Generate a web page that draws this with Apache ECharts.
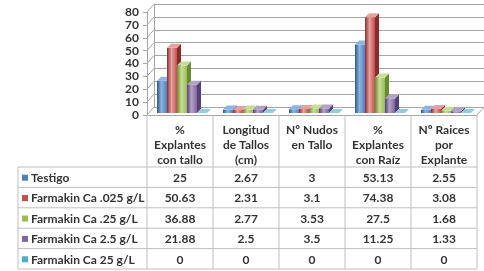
<!DOCTYPE html>
<html>
<head>
<meta charset="utf-8">
<script src="https://cdn.jsdelivr.net/npm/echarts@6/dist/echarts.min.js"></script>
<style>
  html, body { margin: 0; padding: 0; background: #fff; }
  #chart { width: 484px; height: 271px; }
</style>
</head>
<body>
<div id="chart"></div>
<script>
// columnas (también cabecera de la tabla)
const categories = ['%\nExplantes\ncon tallo', 'Longitud\nde Tallos\n(cm)', 'Nº Nudos\nen Tallo', '%\nExplantes\ncon Raíz', 'Nº Raices\npor\nExplante']
const seriesNames = ['Testigo', 'Farmakin Ca .025 g/L', 'Farmakin Ca .25 g/L', 'Farmakin Ca 2.5 g/L', 'Farmakin Ca 25 g/L']
const testigo = [25, 2.67, 3, 53.13, 2.55]
const farmakin025 = [50.63, 2.31, 3.1, 74.38, 3.08]
const farmakin25 = [36.88, 2.77, 3.53, 27.5, 1.68]
const farmakin2_5 = [21.88, 2.5, 3.5, 11.25, 1.33]
const farmakin25gl = [0, 0, 0, 0, 0]
const yTicks = [0, 10, 20, 30, 40, 50, 60, 70, 80]

const allSeries = [testigo, farmakin025, farmakin25, farmakin2_5, farmakin25gl]
// base, oscuro, claro
const colors = [
  ['#4F81BD', '#2C5985', '#8DB3E2'],
  ['#C0504D', '#8B2B29', '#E6A09E'],
  ['#9BBB59', '#6A8A2F', '#C5DD98'],
  ['#8064A2', '#553F75', '#B3A2C7'],
  ['#4BACC6', '#2A7F96', '#93CDDD']
]

const FONT = 'bold 12px Lato'
const LINE = '#a6a6a6'
const DX = 7, DY = -8 // desplazamiento de la pared del fondo
const BW = 10, BDX = 4, BDY = -4 // ancho de barra y profundidad

const chart = echarts.init(document.getElementById('chart'))

function bar3d(sIdx) {
  const c = colors[sIdx]
  return function (params, api) {
    const cat = api.value(0)
    const base = api.coord([cat, 0])
    const top = api.coord([cat, api.value(1)])
    const x0 = base[0] - 2.5 * BW + sIdx * BW + 2
    const yb = base[1] - 2
    const yt = top[1] - 2
    const front = new echarts.graphic.LinearGradient(0, 0, 1, 0, [
      { offset: 0, color: c[1] }, { offset: 0.45, color: c[2] }, { offset: 1, color: c[0] }
    ])
    return {
      type: 'group',
      children: [
        { type: 'rect', shape: { x: x0, y: yt, width: BW, height: yb - yt }, style: { fill: front } },
        { type: 'polygon', shape: { points: [[x0 + BW, yt], [x0 + BW + BDX, yt + BDY], [x0 + BW + BDX, yb + BDY], [x0 + BW, yb]] }, style: { fill: c[1] } },
        { type: 'polygon', shape: { points: [[x0, yt], [x0 + BDX, yt + BDY], [x0 + BW + BDX, yt + BDY], [x0 + BW, yt]] }, style: { fill: c[2] } }
      ]
    }
  }
}

const option = {
  animation: false,
  grid: [
    { left: 147, right: 7, top: 12, bottom: 156 },
    { left: 147 + DX, right: 0, top: 12 + DY, bottom: 156 - DY }
  ],
  xAxis: [
    { gridIndex: 0, type: 'category', data: categories, axisLine: { lineStyle: { color: LINE } }, axisTick: { show: false }, axisLabel: { show: false } },
    { gridIndex: 1, type: 'category', data: categories, show: false }
  ],
  yAxis: [
    {
      gridIndex: 0, type: 'value', min: 0, max: 80, interval: 10,
      axisLine: { show: true, lineStyle: { color: LINE } },
      axisTick: { show: true, length: 4, lineStyle: { color: LINE } },
      axisLabel: { color: '#333', fontFamily: 'Lato', fontWeight: 'bold', fontSize: 12, margin: 8 },
      splitLine: { show: false }
    },
    {
      gridIndex: 1, type: 'value', min: 0, max: 80, interval: 10,
      axisLine: { show: true, lineStyle: { color: LINE } },
      axisTick: { show: false }, axisLabel: { show: false },
      splitLine: { lineStyle: { color: LINE } }
    }
  ],
  series: allSeries.map((arr, i) => ({
    type: 'custom',
    name: seriesNames[i],
    xAxisIndex: 0,
    yAxisIndex: 0,
    renderItem: bar3d(i),
    data: arr.map((v, j) => [j, v])
  }))
}
chart.setOption(option)

// pared lateral, suelo y tabla de datos
const gfx = []
const x0 = chart.convertToPixel({ xAxisIndex: 0 }, 0)
const x1 = chart.convertToPixel({ xAxisIndex: 0 }, 1)
const colW = x1 - x0
const left = x0 - colW / 2
const right = left + colW * categories.length
const floorY = chart.convertToPixel({ yAxisIndex: 0 }, 0)

yTicks.forEach(t => {
  const y = chart.convertToPixel({ yAxisIndex: 0 }, t)
  gfx.push({ type: 'line', shape: { x1: left, y1: y, x2: left + DX, y2: y + DY }, style: { stroke: LINE, lineWidth: 1 } })
})
gfx.push({ type: 'line', shape: { x1: right, y1: floorY, x2: right + DX, y2: floorY + DY }, style: { stroke: LINE, lineWidth: 1 } })

// tabla
const tableLeft = 18
const headBottom = 167
const rowH = 20.4
const tableBottom = headBottom + rowH * seriesNames.length
const line = (a, b, c, d) => gfx.push({ type: 'line', shape: { x1: a, y1: b, x2: c, y2: d }, style: { stroke: '#bfbfbf', lineWidth: 1 }, z: 5 })

for (let k = 0; k <= categories.length; k++) line(left + k * colW, floorY, left + k * colW, tableBottom)
line(tableLeft, headBottom, tableLeft, tableBottom)
for (let r = 0; r <= seriesNames.length; r++) line(tableLeft, headBottom + r * rowH, right, headBottom + r * rowH)

categories.forEach((c, k) => {
  gfx.push({ type: 'text', z: 6, style: { text: c, x: left + (k + 0.5) * colW, y: floorY + 8, align: 'center', verticalAlign: 'top', font: FONT, lineHeight: 15, fill: '#333' } })
})
seriesNames.forEach((n, r) => {
  const cy = headBottom + (r + 0.5) * rowH + 1
  gfx.push({ type: 'rect', z: 6, shape: { x: 22, y: cy - 3.5, width: 6, height: 6 }, style: { fill: colors[r][0] } })
  gfx.push({ type: 'text', z: 6, style: { text: n, x: 31, y: cy, align: 'left', verticalAlign: 'middle', font: FONT, fill: '#333' } })
  allSeries[r].forEach((v, k) => {
    gfx.push({ type: 'text', z: 6, style: { text: String(v), x: left + (k + 0.5) * colW, y: cy, align: 'center', verticalAlign: 'middle', font: FONT, fill: '#333' } })
  })
})

chart.setOption({ graphic: gfx })
</script>
</body>
</html>
